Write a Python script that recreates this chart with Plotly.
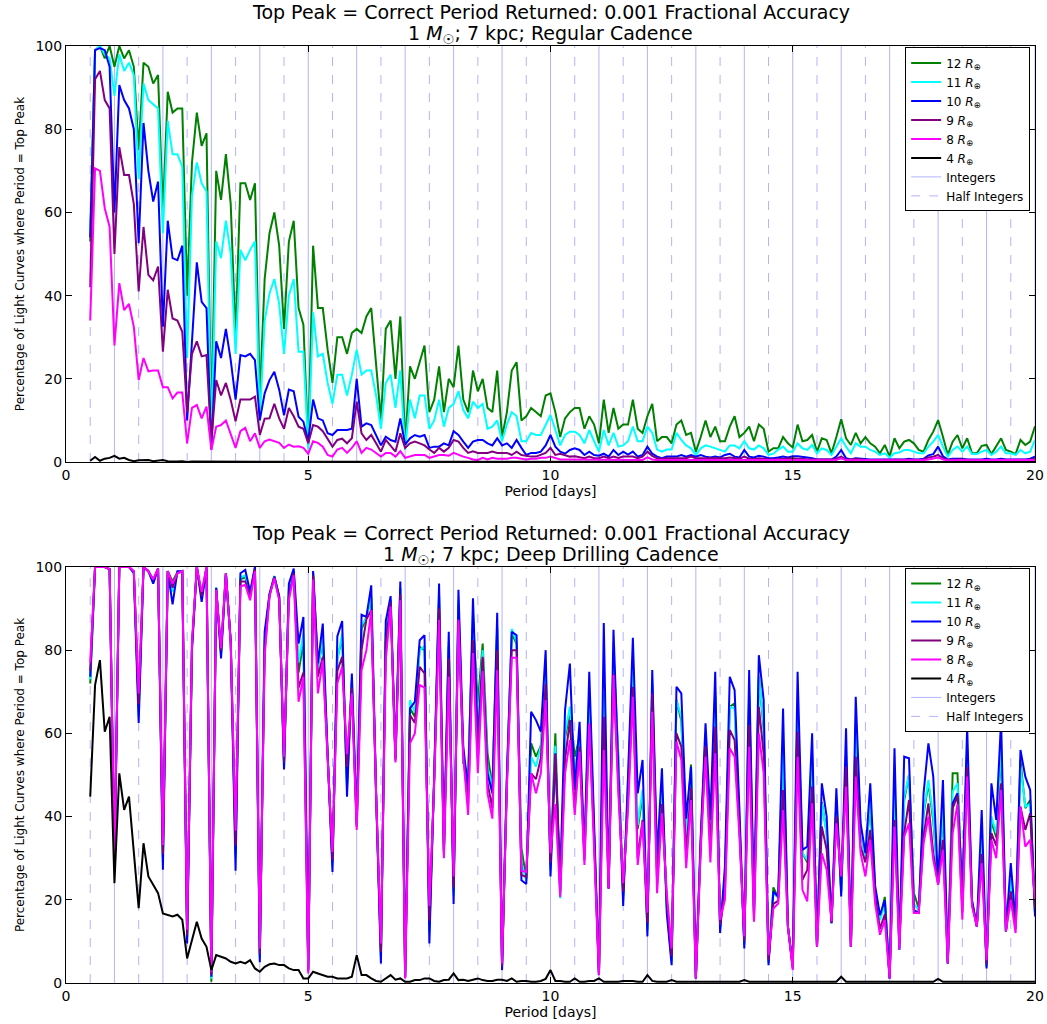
import plotly.graph_objects as go

periods = [round(0.5 + 0.1 * i, 1) for i in range(196)]

# ---------------- Regular cadence (top) ----------------
top_12 = [53, 99, 100, 97, 100,
          95, 100, 97, 99, 95, 75, 96, 95, 91, 93,
          60, 89, 84, 85, 85, 40, 72, 84, 76, 79,
          8, 70, 63, 74, 62, 30, 67, 67, 63, 67,
          15, 44, 55, 60, 52, 32, 53, 58, 37, 33,
          4, 52, 37, 37, 27, 19, 30, 30, 26, 31,
          32, 31, 35, 37, 24, 10, 32, 34, 20, 35,
          4, 23, 20, 24, 28, 12, 15, 23, 12, 20,
          18, 28, 15, 12, 22, 17, 20, 13, 12, 22,
          6, 12, 22, 24, 10, 11, 13, 12, 11, 16,
          16.5, 12, 6, 10.5, 12, 13, 13, 8, 11, 9,
          4.5, 15, 7, 13, 8, 9, 9, 15, 8, 7,
          11, 14, 5, 6, 6, 4.5, 9, 10, 6.5, 7,
          2.5, 6, 10, 6, 8.5, 5, 5, 8.5, 11, 6,
          7, 8.5, 5, 9, 8, 2.5, 3.3, 3.3, 6, 4.5,
          3.5, 9, 5, 5.3, 6.5, 2.5, 5.7, 5.3, 2.1, 6,
          10.3, 5.7, 4.1, 7, 4.5, 6, 4.5, 3.7, 2.1, 4.1,
          1.3, 5.7, 3.3, 4.9, 5.3, 4.5, 2.9, 2.5, 5.3, 7.3,
          10.1, 6.1, 1.7, 4.9, 6.5, 3.3, 5.7, 2.1, 2.1, 3.9,
          4.1, 1.9, 3.7, 5.7, 2.9, 2.5, 1.9, 5.3, 4.1, 4.9,
          8.6]
top_11 = [55, 99, 100, 98, 97,
          88, 98, 94, 96, 93, 68, 91, 87, 86, 85,
          55, 82, 74, 74, 71, 25, 64, 72, 67, 65,
          5, 53, 49, 58, 50, 26, 51, 48.5, 51, 53,
          10, 34, 40.5, 44, 38, 26, 40, 44, 26.5, 26.5,
          3, 36, 25.4, 26, 19, 14, 21, 21, 16, 21,
          27, 21, 22, 22, 16, 8, 19, 21, 13, 22,
          3, 15, 10.5, 16, 16, 8, 10, 15, 8.5, 13,
          14, 17, 12.5, 10.5, 14.5, 13, 14, 8, 8.5, 10,
          5, 9, 12, 11, 5, 5, 7, 6.5, 6.5, 9,
          11.3, 7.7, 4, 6.5, 7.3, 7.3, 6.5, 4.5, 7.7, 5,
          2.5, 7.7, 4, 7, 3.7, 4, 5, 8.5, 5, 5,
          8.5, 7, 3, 2.5, 3, 3, 7, 5.3, 4, 3.3,
          1.7, 3.3, 4, 3.7, 3.3, 3, 2.5, 4, 4, 3.3,
          5, 3.3, 3, 4, 3.3, 1.7, 2, 3, 3.7, 2.5,
          2.5, 4.5, 3.3, 2.9, 4.1, 2.1, 3.3, 2.9, 1.7, 3.7,
          5.7, 3.7, 2.1, 4.5, 3.7, 3.7, 2.9, 2.5, 1.7, 2.1,
          1.1, 2.1, 2.3, 2.9, 2.9, 2.5, 2.1, 2.1, 3.7, 4.9,
          6.5, 3.7, 1.3, 2.9, 3.7, 2.5, 3.7, 1.9, 1.9, 2.5,
          2.9, 1.7, 2.5, 3.7, 2.1, 2.1, 1.7, 2.9, 2.1, 2.5,
          5.3]
top_10 = [54, 99, 99.5, 99, 95,
          60, 90.6, 87, 85, 80, 52.6, 81.5, 70, 62.6, 67.4,
          32.5, 58, 49, 48.5, 52, 10, 29, 48, 38.5, 37,
          3, 29, 25, 32, 24.5, 15, 25.7, 25.4, 26, 24.5,
          10, 16.5, 19.7, 21.7, 17.4, 11.2, 17.4, 17, 10.9, 9.7,
          5, 15, 10.5, 10, 6.9, 6.5, 7.7, 7.7, 7.7, 8,
          20, 8.5, 9.3, 8.9, 6.5, 4, 6.1, 5.3, 4.9, 10.5,
          4.2, 5.7, 6.5, 6.1, 6.5, 3.4, 3.7, 3.7, 4.5, 4,
          7.4, 6.5, 4.9, 3.4, 4.9, 5.3, 5.3, 4.5, 4, 5.7,
          4, 4.5, 3.4, 5.3, 3.4, 1.7, 2.2, 2.2, 2.5, 4,
          6.5, 3.7, 2.5, 2, 2.9, 3.3, 2.9, 1.7, 2.5, 1.7,
          1.5, 2, 1.3, 2.9, 1.7, 2.5, 1.8, 2.5, 1.3, 1.7,
          3.7, 2, 1.3, 0.9, 1.3, 1.3, 1.3, 1.7, 1.3, 1.7,
          1.3, 1.7, 1.3, 1.1, 1.3, 1.1, 1.7, 2, 1.3, 1.1,
          2.9, 1.3, 1.1, 1.5, 1.3, 0.9, 0.9, 1.1, 1.3, 1.1,
          1.4, 1.4, 1.3, 1.1, 0.9, 0.6, 0.6, 0.6, 0.6, 1.3,
          2.9, 0.9, 0.6, 0.9, 0.8, 0.6, 0.6, 0.6, 0.6, 0.6,
          0.6, 0.6, 0.6, 0.6, 0.8, 0.6, 0.6, 0.8, 1.6, 1.9,
          3.7, 1.4, 0.6, 0.8, 0.8, 0.8, 0.6, 0.6, 0.6, 0.6,
          0.8, 0.6, 0.6, 0.8, 0.6, 0.6, 0.6, 0.6, 0.6, 0.8,
          1.3]
top_9 = [42, 92, 94, 87, 85,
         50, 75.7, 69, 69, 62, 41, 56.5, 45, 43.7, 47,
         26.5, 41.4, 34.5, 34, 31.3, 12, 26, 29, 25.4, 25.7,
         5, 19.7, 16, 19, 14.9, 9.8, 15, 15, 15, 15.7,
         6.5, 10.4, 10.5, 14, 10.5, 8, 13, 11, 8.5, 8,
         4.5, 8.9, 8.5, 7.4, 5.7, 3.7, 5.3, 5.6, 4.5, 5.7,
         14.5, 6.9, 5.3, 6.5, 4.5, 2.5, 5.3, 4, 2.5, 6.9,
         3.4, 4.5, 4.9, 4.5, 4, 3, 2.2, 3.4, 2.5, 3.4,
         5.3, 4.9, 3.4, 2.2, 2.6, 2.2, 2.2, 2.2, 2.5, 2.2,
         2.2, 2.2, 1.7, 2.5, 1.7, 1.5, 1.3, 1.3, 1.7, 2.2,
         3.4, 1.7, 2, 1.7, 1.3, 1.4, 1.1, 0.9, 1.3, 0.9,
         0.9, 1.3, 0.9, 1.3, 1, 1.3, 1.3, 1.3, 0.9, 1.3,
         2.5, 1.5, 0.9, 0.8, 0.9, 0.9, 0.9, 0.9, 0.9, 1.3,
         0.9, 0.9, 0.9, 0.8, 0.9, 0.8, 0.9, 1.1, 0.9, 0.8,
         1.3, 0.8, 0.7, 0.9, 0.8, 0.6, 0.6, 0.7, 0.8, 0.8,
         0.9, 0.8, 0.8, 0.6, 0.6, 0.5, 0.5, 0.6, 0.6, 0.8,
         1.3, 0.6, 0.6, 0.8, 0.6, 0.5, 0.5, 0.5, 0.5, 0.5,
         0.5, 0.5, 0.5, 0.5, 0.6, 0.5, 0.5, 0.6, 1.1, 1.3,
         1.7, 0.9, 0.5, 0.6, 0.6, 0.6, 0.5, 0.5, 0.5, 0.5,
         0.6, 0.5, 0.5, 0.6, 0.5, 0.5, 0.5, 0.5, 0.5, 0.6,
         0.8]
top_8 = [34, 70.6, 70, 61, 56.5,
         28, 43, 36.5, 38, 32.5, 19.7, 25, 21.8, 22, 22,
         18, 18, 15.3, 16.7, 16.7, 4.5, 13, 13.7, 10.5, 13.3,
         2.9, 8.5, 8.9, 10, 6.9, 3.4, 7.4, 8.2, 5, 6.9,
         3.4, 5, 5.4, 5, 4.6, 3.4, 4.2, 3.7, 3.8, 3.4,
         2, 5, 4.6, 3.7, 1.7, 1.3, 3, 3.4, 2.2, 3.4,
         5, 2.2, 3.4, 3, 2.2, 1.3, 2.2, 2.2, 1.3, 2.6,
         1, 1.3, 1.7, 1.7, 1.7, 1, 1.3, 1.7, 1.7, 1.5,
         2.2, 1.7, 1.3, 1, 0.6, 0.5, 1, 0.6, 1, 0.8,
         0.8, 0.8, 1, 1, 0.8, 0.6, 0.8, 0.8, 1, 1,
         1.3, 0.9, 0.6, 0.6, 0.6, 0.6, 0.5, 0.5, 0.5, 0.5,
         0.5, 0.5, 0.5, 0.6, 0.5, 0.5, 0.6, 0.5, 0.5, 0.5,
         1.1, 0.6, 0.5, 0.5, 0.5, 0.5, 0.5, 0.5, 0.5, 0.6,
         0.5, 0.5, 0.5, 0.5, 0.5, 0.5, 0.5, 0.5, 0.5, 0.5,
         0.6, 0.5, 0.5, 0.5, 0.5, 0.5, 0.5, 0.5, 0.5, 0.5,
         0.5, 0.5, 0.5, 0.4, 0.4, 0.4, 0.4, 0.4, 0.4, 0.5,
         0.9, 0.4, 0.4, 0.4, 0.4, 0.4, 0.4, 0.4, 0.4, 0.4,
         0.4, 0.4, 0.4, 0.4, 0.4, 0.4, 0.4, 0.4, 0.6, 0.9,
         1.1, 0.6, 0.4, 0.4, 0.4, 0.4, 0.4, 0.4, 0.4, 0.4,
         0.4, 0.4, 0.4, 0.4, 0.4, 0.4, 0.4, 0.4, 0.4, 0.4,
         0.5]
top_4 = [0.3, 1.2, 0.3, 0.8, 1.0,
         1.5, 0.8, 1.0, 0.5, 0.2, 0.4, 0.5, 0.5, 0.2, 0.3,
         0.5, 0.2, 0.1, 0.1, 0.2, 0, 0.1, 0.1, 0, 0,
         0.1, 0, 0, 0, 0, 0, 0, 0, 0, 0,
         0, 0, 0, 0, 0, 0, 0, 0, 0, 0,
         0, 0, 0, 0, 0, 0, 0, 0, 0, 0,
         0, 0, 0, 0, 0, 0, 0, 0, 0, 0,
         0, 0, 0, 0, 0, 0, 0, 0, 0, 0,
         0, 0, 0, 0, 0, 0, 0, 0, 0, 0,
         0, 0, 0, 0, 0, 0, 0, 0, 0, 0,
         0, 0, 0, 0, 0, 0, 0, 0, 0, 0,
         0, 0, 0, 0, 0, 0, 0, 0, 0, 0,
         0, 0, 0, 0, 0, 0, 0, 0, 0, 0,
         0, 0, 0, 0, 0, 0, 0, 0, 0, 0,
         0, 0, 0, 0, 0, 0, 0, 0, 0, 0,
         0, 0, 0, 0, 0, 0, 0, 0, 0, 0,
         0, 0, 0, 0, 0, 0, 0, 0, 0, 0,
         0, 0, 0, 0, 0, 0, 0, 0, 0, 0,
         0, 0, 0, 0, 0, 0, 0, 0, 0, 0,
         0, 0, 0, 0, 0, 0, 0, 0, 0, 0,
         0]

# ---------------- Deep drilling cadence (bottom) ----------------
dd_12 = [72, 100, 100, 100, 99.5,
         29, 100, 100, 100, 98.8, 66, 100, 99, 96.5, 99.6,
         30, 99, 96.5, 98.8, 99, 11, 81, 100, 93, 99.8,
         0.3, 95, 79.5, 98.5, 82, 31, 97, 97.5, 93.5, 99.8,
         6.5, 82, 93.3, 97.8, 92.8, 52.5, 94.5, 99, 74.6, 82,
         3, 98.5, 76, 82, 55, 29, 78, 83, 48, 72.5,
         38, 85, 88, 92.5, 45.6, 6.5, 84, 92, 54, 95,
         1.3, 66, 64, 80.8, 80, 13, 49.5, 93, 31.5, 81,
         22, 91, 52.8, 50.4, 87, 67.2, 81.6, 55.2, 47, 85,
         3.8, 49, 84, 81.5, 32.5, 25, 57.6, 54.4, 57, 76,
         28, 60, 21, 59, 65, 54.4, 59, 30.5, 69, 36,
         1.9, 68, 22.7, 79, 54, 21, 46, 77, 37, 45,
         13, 72, 26.5, 46.4, 18.5, 5.5, 68, 63, 34, 52.5,
         1.1, 34, 59, 35, 69, 13.5, 25, 66.4, 67.2, 38.5,
         9.5, 69, 16.5, 73.6, 61, 5, 23, 20.5, 57, 13.6,
         3.8, 66, 31.2, 29, 54, 8.7, 43.5, 36, 14.4, 43,
         22, 54, 8.7, 62, 36.8, 30, 43, 22.5, 15.5, 20.7,
         1.1, 45, 8.5, 44, 50, 21.6, 18, 40.5, 48, 39,
         24, 41, 4.7, 50.4, 50.4, 19.5, 56, 19.5, 13.6, 35,
         4, 39, 35, 56, 12.4, 24.5, 14, 53.6, 42, 44,
         17]
dd_11 = [73, 100, 100, 100, 99.5,
         28.5, 100, 100, 100, 98.8, 64, 100, 99, 96.5, 99.6,
         29, 99, 94, 98.8, 99, 10.5, 81, 100, 92.5, 99.8,
         1, 95, 79, 98.5, 82, 30, 97.5, 98, 93.5, 99.8,
         6, 83, 93.3, 97.8, 92.8, 52, 95, 99, 77, 84,
         3, 98.5, 75.5, 83, 55, 28, 77.6, 84, 47, 73,
         38, 86, 87.7, 93, 45.6, 6, 85, 92, 54, 95,
         1.3, 68, 65, 80, 81, 12, 49.5, 93.5, 31.5, 82,
         21, 92, 54, 48, 89, 62, 80, 52, 47, 86,
         3.5, 49, 85.1, 82, 29, 24.5, 54.4, 52, 57, 77,
         27, 57, 20.3, 60, 66.4, 50, 60, 30.5, 70, 36,
         1.9, 69.6, 22.7, 80, 55, 20, 47, 78, 38, 46.4,
         12.5, 73, 27, 47, 18, 5, 68, 64, 35, 51,
         1.1, 34, 60, 36, 70, 13, 25, 66.4, 66, 39,
         9, 70, 17, 73.6, 62, 4.8, 21.5, 20.5, 58, 13.6,
         3.8, 67.2, 31.2, 29.6, 55, 8.7, 43.2, 36, 14.4, 44,
         22, 55.2, 8.7, 63.2, 37, 30, 44, 22.5, 15.1, 19,
         1.1, 45.6, 8, 44.8, 50, 19, 17.5, 41, 48.8, 40,
         24, 42, 4.7, 46, 48, 19, 57, 19.5, 13.6, 36,
         4, 40, 36, 57, 12.4, 25, 14, 52, 42.4, 43,
         17]
dd_10 = [73.6, 100, 100, 100, 99.5,
         28, 100, 100, 100, 98.5, 62.5, 100, 99, 96, 99.6,
         27.2, 99, 91, 99, 99, 9.5, 80, 100, 91.6, 99.6,
         1.5, 95, 78, 98.5, 82, 27, 98.5, 99.3, 94, 100,
         5, 84.4, 93.5, 97.7, 93, 51.3, 96, 99.6, 81.6, 88,
         3.5, 99, 76.8, 86.4, 55, 26.7, 83.3, 87, 44.8, 74.4,
         38.4, 88.5, 88, 95.6, 45.6, 4.7, 87, 93, 54, 96.5,
         1.5, 66, 67.6, 82.4, 83.6, 9.5, 50, 96, 32, 84.4,
         19, 94.5, 56.8, 46.4, 92.5, 58.4, 78, 50.4, 45.6, 89,
         3.1, 50, 84.4, 83.6, 24.7, 23.8, 65.2, 63.2, 60.4, 80,
         25.6, 55.2, 24.7, 65.6, 76.8, 46.4, 62.8, 31.2, 74.8, 37.6,
         1.9, 86.5, 22.7, 84.9, 52, 18.5, 49.6, 83, 45.6, 53.6,
         11.2, 75.2, 30.3, 51.6, 16.8, 4.3, 71.2, 69.6, 39.5, 52,
         1.1, 35, 62.4, 39.2, 74.8, 12, 28, 73.6, 70.4, 41.6,
         8.3, 75.2, 18.5, 78.8, 68, 4.3, 22, 20.7, 66, 13.6,
         4.3, 74.8, 32, 32.8, 60, 8.7, 48, 40, 14.4, 46.8,
         20.8, 61.2, 8.7, 68.8, 38.4, 31.2, 48, 23.4, 16.3, 19.9,
         1.1, 56.4, 8, 54.4, 54, 17.6, 16.8, 45.6, 57.6, 49.6,
         24, 48.8, 4.7, 43.2, 45.6, 21.6, 61.6, 19.9, 13.6, 41.6,
         3.5, 48, 39.2, 63.2, 12.4, 28.8, 14.4, 56, 49.6, 46.4,
         16]
dd_9 = [75, 100, 100, 100, 99.5,
        29, 100, 100, 100, 99, 67, 100, 99, 97, 99.6,
        31, 99, 95, 98.5, 99, 11.5, 81, 100, 93, 100,
        2, 94.5, 80, 98.5, 82, 33, 96.5, 96.5, 93, 99.5,
        7, 80, 93, 97.5, 92.5, 53, 93, 98.5, 71, 74.6,
        2.8, 98, 73.6, 78.4, 54.5, 29.5, 75, 78.4, 52, 71,
        37.5, 80, 87.4, 89.6, 45.6, 7.5, 82, 91.5, 53.5, 93.5,
        1.3, 64.4, 62.5, 76, 74.4, 15, 49, 90, 31, 78,
        23, 87.3, 55, 43, 82.4, 54, 78.4, 48, 42, 80,
        4, 48, 80, 80, 26, 25.5, 50.4, 49, 54, 72,
        29, 55, 22, 53.6, 63.2, 42, 56.8, 29.5, 62, 35,
        1.9, 64, 22.7, 74.4, 48, 22, 44, 71.2, 30, 39.2,
        14.5, 69.6, 24, 43, 20, 6.5, 60, 56.8, 31, 47,
        1.1, 33, 57, 32, 61.6, 14, 22, 60.8, 58.4, 37,
        10, 62, 14.8, 66.4, 55, 5.5, 19, 19.8, 46.4, 13.6,
        3.5, 60.4, 24.8, 27.2, 47.2, 8.7, 37.6, 32, 14.5, 40,
        25.6, 52, 8.7, 54.4, 32.8, 29, 36.8, 21, 13, 16.5,
        1.1, 39.2, 9.6, 36, 44, 17, 16.8, 35.2, 43.2, 31.2,
        23.8, 34.4, 4.7, 42, 45, 17, 52, 19, 13.6, 31,
        4.5, 36, 33, 48, 12.4, 22, 13, 42.4, 36.8, 40.8,
        18]
dd_8 = [77, 100, 100, 100, 99.5,
        30, 100, 100, 100, 99, 69.6, 100, 99, 97, 99.6,
        33.2, 99, 96, 98.5, 99, 12.8, 82, 100, 94, 100,
        2.7, 94.5, 80.5, 98.5, 81.6, 36.6, 95.3, 95.7, 92, 99,
        8.3, 78.5, 93, 97.3, 92, 54.4, 92, 98, 67.6, 73.6,
        2.3, 97, 69.6, 77.6, 54, 31.5, 72, 76, 55, 69.6,
        36.8, 75.2, 80, 89.6, 45.6, 9.5, 77.6, 90.5, 53, 92,
        1.1, 57.6, 60, 71.6, 71, 18.5, 48, 87.3, 30, 73.6,
        25.6, 87.3, 54.4, 40.4, 79.3, 50.4, 75, 45.6, 39.5, 75.2,
        4.7, 47, 78.2, 78.2, 27, 26.7, 50.4, 45.6, 50.4, 68,
        31.2, 43, 20.7, 50.4, 58.4, 40.4, 55.6, 28.4, 62.4, 33.6,
        1.9, 56, 22.7, 74, 45.6, 24, 41.6, 68.8, 28.4, 38.8,
        16.9, 65.2, 21.6, 40.8, 21.6, 8.3, 58, 53.6, 27.6, 44,
        1.1, 32, 54.4, 29, 55.2, 15.2, 20, 56.4, 54.4, 35.2,
        11.2, 56.8, 14.8, 60, 50.4, 6.7, 17.9, 19.1, 41.6, 13.6,
        3.1, 54.4, 22.4, 19.6, 43.2, 8.7, 31.2, 27.2, 14.8, 38.4,
        25.6, 47.2, 8.7, 49.6, 31.2, 25.6, 34.4, 19.1, 11.6, 15.2,
        1.1, 37.6, 8, 35.2, 38.4, 16.8, 16.8, 33.6, 40, 29.6,
        23.6, 32, 4.7, 36, 43, 15.2, 49.6, 18.4, 13.6, 28.8,
        5.5, 34.4, 30, 46.4, 12.4, 20, 12, 42.4, 32.8, 34.4,
        20]
dd_4 = [44.8, 71.6, 77.6, 60.4, 64,
        24, 50.4, 41.6, 44.8, 31, 18, 33.6, 25.6, 23.6, 21.6,
        16.7, 16.4, 16, 16.4, 15.2, 5.9, 10, 14.7, 10.7, 8.7,
        3.1, 6.7, 6.3, 5.9, 5.1, 4.7, 5.1, 4.7, 5.5, 3.5,
        2.7, 3.9, 4.5, 4.7, 4.3, 4.3, 3.5, 3.1, 3.1, 1.1,
        1.1, 2.7, 2.3, 1.9, 1.5, 1.5, 1.1, 1.1, 1.1, 1.5,
        6.7, 1.9, 1.9, 1.1, 0.5, 0.3, 1.1, 1.9, 0.8, 1.1,
        0.3, 0.3, 0.7, 0.7, 1.1, 1.1, 0.5, 0.3, 0.7, 0.8,
        2.3, 0.7, 0.8, 0.5, 0.8, 1.1, 0.7, 0.5, 0.5, 0.8,
        0.8, 0.5, 1.1, 0.3, 0.5, 0.5, 0.3, 0.3, 0.5, 1.0,
        3.1, 0.5, 0.5, 0.3, 0.3, 1.1, 0.3, 0.3, 0.5, 0.5,
        1.1, 0.3, 0.3, 0.3, 0.3, 0.5, 0.5, 0.5, 0.3, 0.3,
        1.9, 0.5, 0.3, 0.3, 0.3, 0.7, 0.3, 0.3, 0.3, 0.3,
        0.3, 0.3, 0.3, 0.3, 0.3, 0.3, 0.3, 0.3, 0.3, 0.3,
        0.7, 0.3, 0.3, 0.3, 0.3, 0.3, 0.3, 0.3, 0.3, 0.3,
        0.3, 0.3, 0.3, 0.3, 0.3, 0.3, 0.3, 0.3, 0.3, 0.3,
        1.5, 0.3, 0.3, 0.3, 0.3, 0.3, 0.3, 0.3, 0.3, 0.3,
        0.3, 0.3, 0.3, 0.3, 0.3, 0.3, 0.3, 0.3, 0.3, 0.3,
        1.0, 0.3, 0.3, 0.3, 0.3, 0.3, 0.3, 0.3, 0.3, 0.3,
        0.3, 0.3, 0.3, 0.3, 0.3, 0.3, 0.3, 0.3, 0.3, 0.3,
        0.3]

series_names = ["12 <i>R</i><sub>⊕</sub>", "11 <i>R</i><sub>⊕</sub>", "10 <i>R</i><sub>⊕</sub>",
                "9 <i>R</i><sub>⊕</sub>", "8 <i>R</i><sub>⊕</sub>", "4 <i>R</i><sub>⊕</sub>"]
series_colors = ["#008000", "#00FFFF", "#0000FF", "#800080", "#FF00FF", "#000000"]
top_series = [top_12, top_11, top_10, top_9, top_8, top_4]
dd_series = [dd_12, dd_11, dd_10, dd_9, dd_8, dd_4]

for s in top_series + dd_series:
    assert len(s) == len(periods), len(s)

integers = list(range(1, 21))
half_integers = [i + 0.5 for i in range(0, 20)]
x_ticks = [0, 5, 10, 15, 20]
y_ticks = [0, 20, 40, 60, 80, 100]

FONT = "DejaVu Sans"
VLINE = "rgba(0,0,255,0.3)"

fig = go.Figure()

panels = [("x", "y", "legend", top_series), ("x2", "y2", "legend2", dd_series)]
for xa, ya, leg, data in panels:
    for name, col, vals in zip(series_names, series_colors, data):
        fig.add_trace(go.Scatter(x=periods, y=vals, mode="lines", name=name,
                                 line=dict(color=col, width=2), xaxis=xa, yaxis=ya,
                                 legend=leg))
    fig.add_trace(go.Scatter(x=[None], y=[None], mode="lines", name="Integers",
                             line=dict(color=VLINE, width=1), xaxis=xa, yaxis=ya, legend=leg))
    fig.add_trace(go.Scatter(x=[None], y=[None], mode="lines", name="Half Integers",
                             line=dict(color=VLINE, width=1, dash="dash"), xaxis=xa, yaxis=ya,
                             legend=leg))
    for v in integers:
        fig.add_shape(type="line", x0=v, x1=v, y0=0, y1=1, xref=xa, yref=ya + " domain",
                      line=dict(color=VLINE, width=1), layer="below")
    for v in half_integers:
        fig.add_shape(type="line", x0=v, x1=v, y0=0, y1=1, xref=xa, yref=ya + " domain",
                      line=dict(color=VLINE, width=1, dash="dash"), layer="below")

axis_common = dict(showline=True, linecolor="black", linewidth=1, mirror="ticks",
                   ticks="inside", ticklen=6, tickcolor="black", showgrid=False,
                   zeroline=False, automargin=False,
                   tickfont=dict(family=FONT, size=14, color="black"))

fig.update_layout(
    width=1047, height=1024,
    margin=dict(l=66, r=12, t=46, b=41),
    paper_bgcolor="white", plot_bgcolor="white",
    font=dict(family=FONT, color="black"),
    showlegend=True,
    xaxis=dict(domain=[0, 1], range=[0, 20], tickvals=x_ticks, anchor="y",
               title=dict(text="Period [days]", font=dict(size=14), standoff=2), **axis_common),
    yaxis=dict(domain=[0.556, 1], range=[0, 100], tickvals=y_ticks, anchor="x",
               title=dict(text="Percentage of Light Curves where Period = Top Peak",
                          font=dict(size=12), standoff=8), **axis_common),
    xaxis2=dict(domain=[0, 1], range=[0, 20], tickvals=x_ticks, anchor="y2",
                title=dict(text="Period [days]", font=dict(size=14), standoff=2), **axis_common),
    yaxis2=dict(domain=[0, 0.444], range=[0, 100], tickvals=y_ticks, anchor="x2",
                title=dict(text="Percentage of Light Curves where Period = Top Peak",
                           font=dict(size=12), standoff=8), **axis_common),
    legend=dict(x=0.995, y=0.9985, xanchor="right", yanchor="top", bgcolor="white",
                bordercolor="black", borderwidth=1, font=dict(family=FONT, size=12),
                tracegroupgap=0, itemwidth=30),
    legend2=dict(x=0.995, y=0.443, xanchor="right", yanchor="top", bgcolor="white",
                 bordercolor="black", borderwidth=1, font=dict(family=FONT, size=12),
                 tracegroupgap=0, itemwidth=30),
)

titles = [
    ("Top Peak = Correct Period Returned: 0.001 Fractional Accuracy", 1.0365),
    ("1 <i>M</i><sub>☉</sub>; 7 kpc; Regular Cadence", 1.0120),
    ("Top Peak = Correct Period Returned: 0.001 Fractional Accuracy", 0.4805),
    ("1 <i>M</i><sub>☉</sub>; 7 kpc; Deep Drilling Cadence", 0.4560),
]
for text, yy in titles:
    fig.add_annotation(text=text, x=0.5, y=yy, xref="paper", yref="paper",
                       xanchor="center", yanchor="middle", showarrow=False,
                       font=dict(family=FONT, size=19, color="black"))

fig.write_html("out.html")
